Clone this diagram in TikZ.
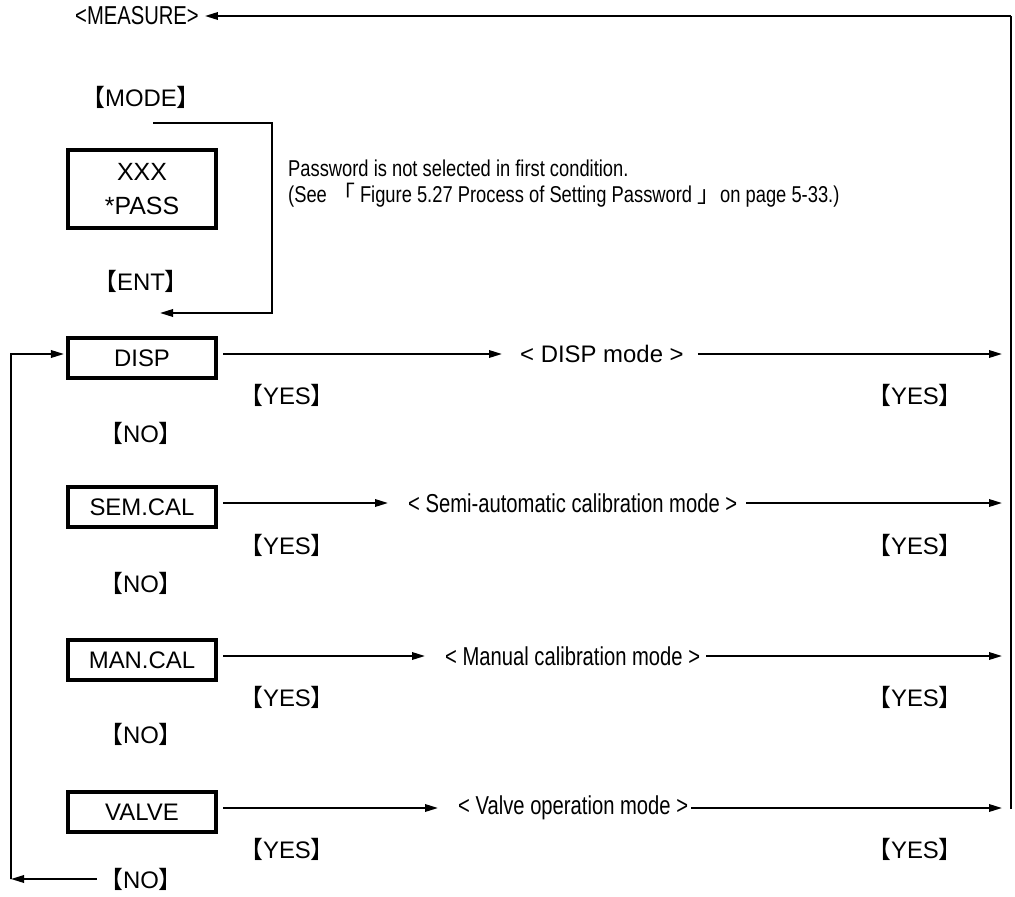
\documentclass[tikz,border=0pt]{standalone}
\usepackage{fontspec}
\setmainfont{Liberation Sans}
\newfontfamily\condfont[FakeStretch=0.78]{Liberation Sans}
\newfontfamily\pwdfont[FakeStretch=0.8]{Liberation Sans}
\newfontfamily\cjk{Noto Sans CJK JP}
\usetikzlibrary{arrows.meta}
\newcommand\lbk{{\cjk 【}}
\newcommand\rbk{{\cjk 】}}
\newcommand\jlq{{\cjk 「}}
\newcommand\jrq{{\cjk 」}}
\begin{document}
\begin{tikzpicture}[x=1bp,y=-1bp,
  txt/.style={font=\fontsize{24}{28}\selectfont, inner sep=0pt},
  ctxt/.style={font=\condfont\fontsize{26}{28}\selectfont, inner sep=0pt},
  box/.style={draw, line width=4bp, minimum width=148bp, minimum height=40bp, inner sep=0pt, font=\fontsize{24}{28}\selectfont},
  ln/.style={line width=1.8bp},
  arr/.style={ln, -{Triangle[length=13bp,width=7.5bp]}}
]
\useasboundingbox (0,0) rectangle (1015,897);

% top part
\node[ctxt] (measure) at (137,16) {<MEASURE>};
\node[txt] (mode) at (141,97) {\lbk MODE\rbk};
\node[box, minimum height=78bp, align=center, font=\fontsize{25}{35}\selectfont] (pass) at (142,189) {XXX\\*PASS};
\node[anchor=west, align=left, inner sep=0pt, font=\pwdfont\fontsize{23}{26}\selectfont] (pwd) at (288,184) {Password is not selected in first condition.\\(See \jlq\ Figure 5.27 Process of Setting Password \jrq on page 5-33.)};
\node[txt] (ent) at (141,281) {\lbk ENT\rbk};

\coordinate (m1) at (153,123);
\coordinate (m2) at (272,123);
\coordinate (m3) at (272,313);
\coordinate (m4) at (160,313);
\draw[arr] (m1) -- (m2) -- (m3) -- (m4);

% right return line
\coordinate (rt) at (1011,16);
\coordinate (rb) at (1011,809);
\draw[ln] (rb) -- (rt);
\draw[arr, shorten >=6bp] (rt) -- (measure.east);

% DISP row
\node[box] (disp) at (142,358) {DISP};
\node[txt, anchor=west] (dispm) at (520,354) {< DISP mode >};
\coordinate (dispr) at (1002,354);
\draw[arr, shorten <=5bp, shorten >=18bp] ([yshift=4bp]disp.east) -- (dispm.west);
\draw[arr, shorten <=14bp] (dispm.east) -- (dispr);
\node[txt] (dispy) at (287,395) {\lbk YES\rbk};
\node[txt] (dispyr) at (915,395) {\lbk YES\rbk};
\node[txt] (dispn) at (141,433) {\lbk NO\rbk};

% SEM.CAL row
\node[box] (sem) at (142,507) {SEM.CAL};
\node[ctxt, anchor=west] (semm) at (408,503) {< Semi-automatic calibration mode >};
\coordinate (semr) at (1002,503);
\draw[arr, shorten <=5bp, shorten >=20bp] ([yshift=4bp]sem.east) -- (semm.west);
\draw[arr, shorten <=9bp] (semm.east) -- (semr);
\node[txt] (semy) at (287,545) {\lbk YES\rbk};
\node[txt] (semyr) at (915,545) {\lbk YES\rbk};
\node[txt] (semn) at (141,583) {\lbk NO\rbk};

% MAN.CAL row
\node[box] (man) at (142,660) {MAN.CAL};
\node[ctxt, anchor=west] (manm) at (445,656) {< Manual calibration mode >};
\coordinate (manr) at (1002,656);
\draw[arr, shorten <=5bp, shorten >=20bp] ([yshift=4bp]man.east) -- (manm.west);
\draw[arr, shorten <=6bp] (manm.east) -- (manr);
\node[txt] (many) at (287,697) {\lbk YES\rbk};
\node[txt] (manyr) at (915,697) {\lbk YES\rbk};
\node[txt] (mann) at (141,734) {\lbk NO\rbk};

% VALVE row
\node[box] (valve) at (142,812) {VALVE};
\node[ctxt, anchor=west] (valvem) at (458,808) {< Valve operation mode >};
\coordinate (valver) at (1002,808);
\draw[arr, shorten <=5bp, shorten >=20bp] ([yshift=4bp]valve.east) -- (valvem.west);
\draw[arr, shorten <=3bp] (valvem.east) -- (valver);
\node[txt] (valvey) at (287,849) {\lbk YES\rbk};
\node[txt] (valveyr) at (915,849) {\lbk YES\rbk};
\node[txt] (valven) at (141,879) {\lbk NO\rbk};

% left return line
\coordinate (lc) at (11,879);
\coordinate (lt) at (11,354);
\draw[arr, shorten <=2bp] (valven.west) -- (lc);
\draw[arr, shorten >=2bp] (lc) -- (lt) -- ([yshift=4bp]disp.west);
\end{tikzpicture}
\end{document}
